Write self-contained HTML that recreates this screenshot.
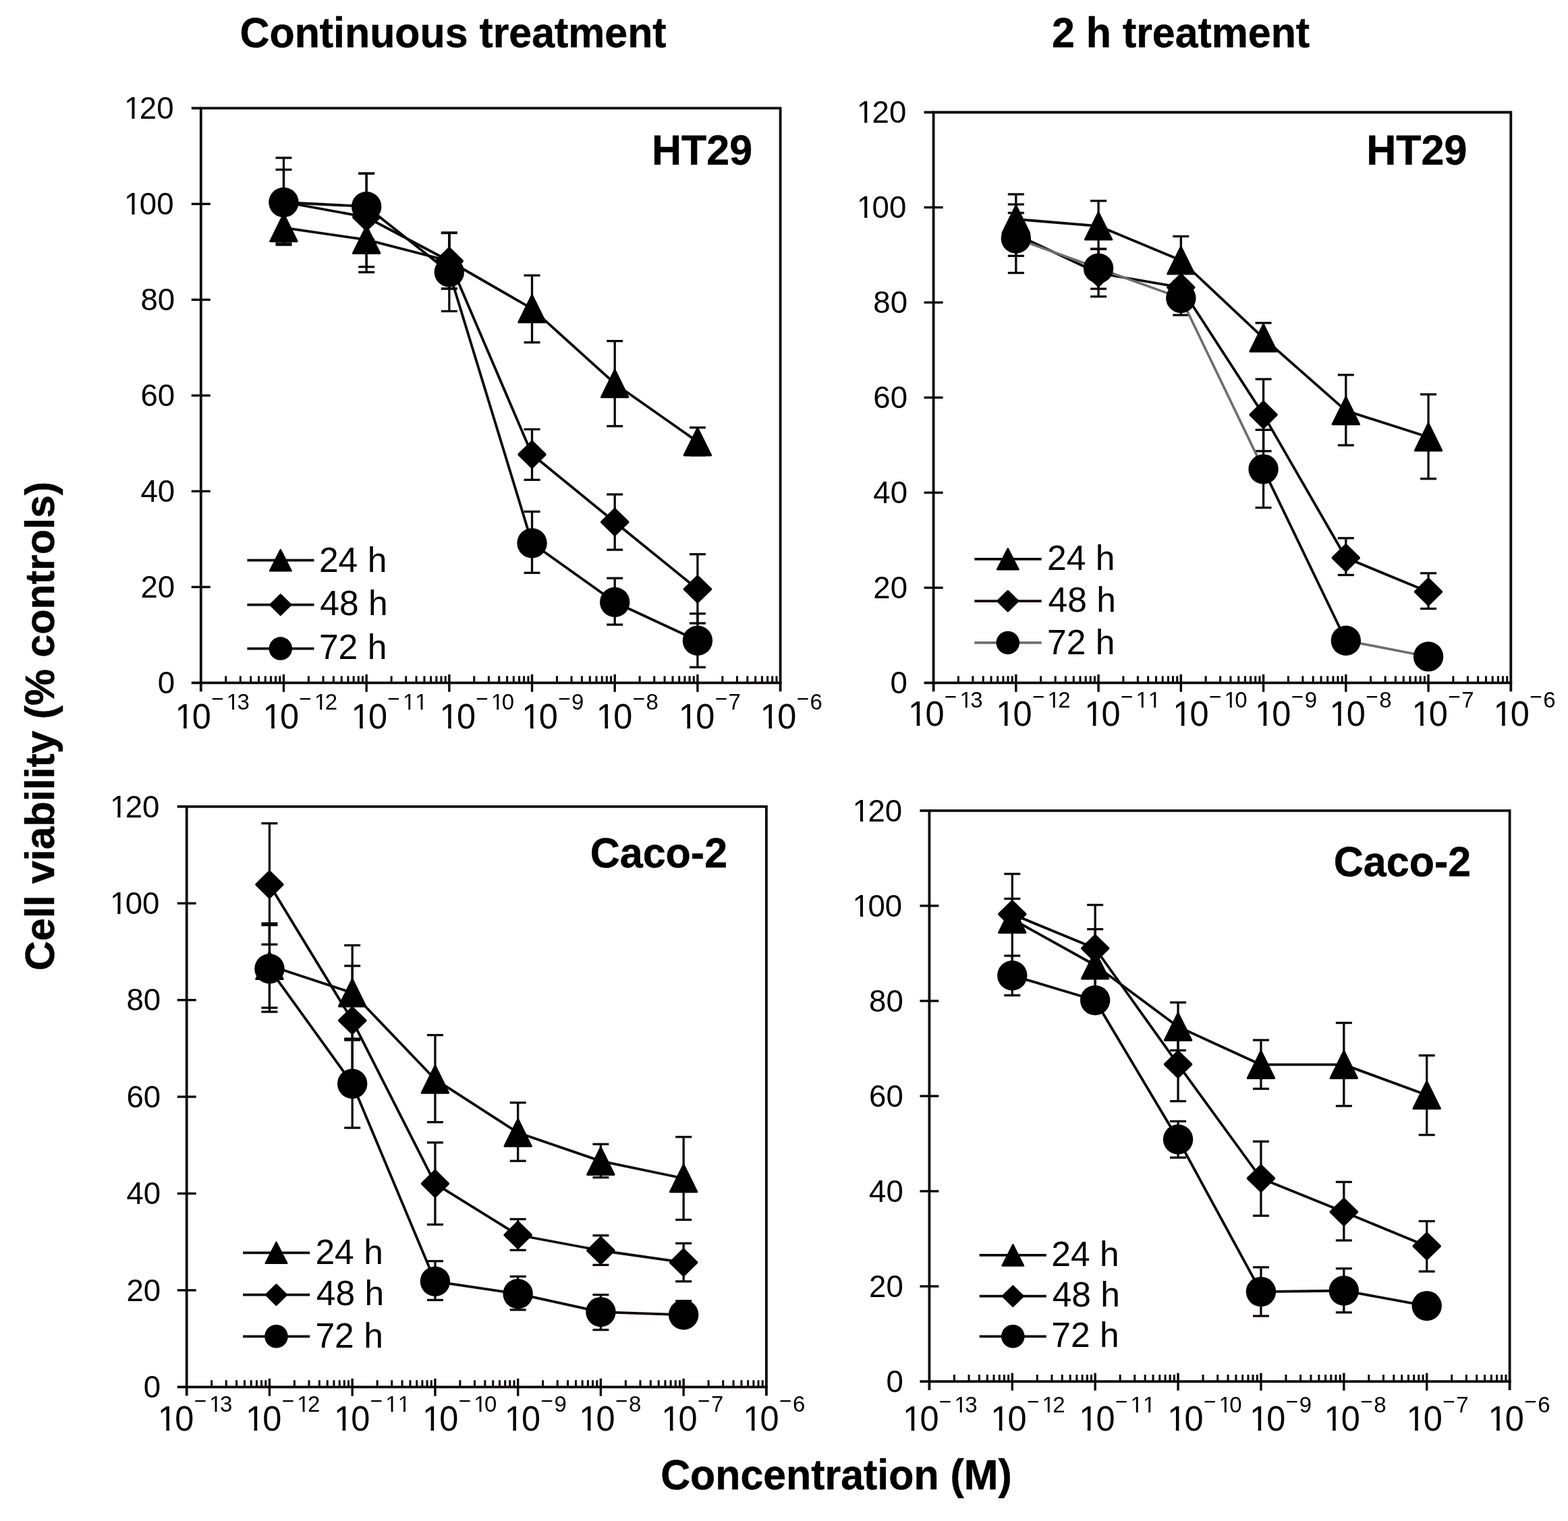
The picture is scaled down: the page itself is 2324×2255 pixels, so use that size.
<!DOCTYPE html>
<html lang="en"><head><meta charset="utf-8"><title>Cell viability</title>
<style>html,body{margin:0;padding:0;background:#fff}body{width:2324px;height:2255px;overflow:hidden}svg{display:block}text{font-family:"Liberation Sans",sans-serif;fill:#000;font-kerning:none}text[font-weight=bold]{stroke:#000;stroke-width:0.5px;stroke-linejoin:round}</style>
</head><body>
<svg width="2324" height="2255" viewBox="0 0 2324 2255" role="img" aria-label="Cell viability versus concentration for HT29 and Caco-2 cells">
<rect width="2324" height="2255" fill="#fff"/>
<defs><clipPath id="cy" clipPathUnits="userSpaceOnUse"><path clip-rule="evenodd" d="M-400 -400H1200V400H-400ZM3.88 -4.56H13.89V1.37H3.88ZM18.08 -4.56H26.31V1.37H18.08Z"/></clipPath><clipPath id="cc" clipPathUnits="userSpaceOnUse"><path clip-rule="evenodd" d="M-400 -400H1200V400H-400ZM4.29 -5.05H15.38V1.51H4.29ZM20.02 -5.05H29.14V1.51H20.02Z"/></clipPath><clipPath id="ca" clipPathUnits="userSpaceOnUse"><path clip-rule="evenodd" d="M-400 -400H1200V400H-400ZM4.29 -5.05H15.38V1.51H4.29ZM20.02 -5.05H29.14V1.51H20.02ZM80.13 -30.1H87.38V-25.81H80.13ZM90.41 -30.1H96.37V-25.81H90.41Z"/></clipPath><clipPath id="cb" clipPathUnits="userSpaceOnUse"><path clip-rule="evenodd" d="M-400 -400H1200V400H-400ZM4.29 -5.05H15.38V1.51H4.29ZM20.02 -5.05H29.14V1.51H20.02ZM80.13 -30.1H87.38V-25.81H80.13ZM90.41 -30.1H96.37V-25.81H90.41ZM98.49 -30.1H105.73V-25.81H98.49ZM108.77 -30.1H114.73V-25.81H108.77Z"/></clipPath></defs>
<text transform="translate(355.57 69.8) scale(1 1.02)" font-size="60.85" font-weight="bold">Continuous treatment</text>
<text transform="translate(1559.07 69.8) scale(1 1.02)" font-size="60.85" font-weight="bold">2 h treatment</text>
<text transform="translate(979.17 2207.8) scale(1 1.02)" font-size="60.85" font-weight="bold">Concentration (M)</text>
<text transform="translate(79.6 1076.5) rotate(-90) scale(1 1.01)" font-size="61" font-weight="bold" text-anchor="middle">Cell viability (% controls)</text>
<g>
<path d="M297.8 1025.3V160.4H1156.6V1025.3" fill="none" stroke="#0c0606" stroke-width="3.8" stroke-linejoin="miter"/>
<line x1="283.8" y1="1012.3" x2="1158.5" y2="1012.3" stroke="#0c0606" stroke-width="3.8"/>
<line x1="283.8" y1="160.4" x2="297.8" y2="160.4" stroke="#0c0606" stroke-width="3.8"/>
<line x1="283.8" y1="870.32" x2="311.8" y2="870.32" stroke="#0c0606" stroke-width="3.4"/>
<line x1="283.8" y1="728.33" x2="311.8" y2="728.33" stroke="#0c0606" stroke-width="3.4"/>
<line x1="283.8" y1="586.35" x2="311.8" y2="586.35" stroke="#0c0606" stroke-width="3.4"/>
<line x1="283.8" y1="444.37" x2="311.8" y2="444.37" stroke="#0c0606" stroke-width="3.4"/>
<line x1="283.8" y1="302.38" x2="311.8" y2="302.38" stroke="#0c0606" stroke-width="3.4"/>
<line x1="420.49" y1="999.8" x2="420.49" y2="1025.8" stroke="#0c0606" stroke-width="3.4"/>
<line x1="543.17" y1="999.8" x2="543.17" y2="1025.8" stroke="#0c0606" stroke-width="3.4"/>
<line x1="665.86" y1="999.8" x2="665.86" y2="1025.8" stroke="#0c0606" stroke-width="3.4"/>
<line x1="788.54" y1="999.8" x2="788.54" y2="1025.8" stroke="#0c0606" stroke-width="3.4"/>
<line x1="911.23" y1="999.8" x2="911.23" y2="1025.8" stroke="#0c0606" stroke-width="3.4"/>
<line x1="1033.91" y1="999.8" x2="1033.91" y2="1025.8" stroke="#0c0606" stroke-width="3.4"/>
<path d="M334.73 1012.3V1002.3M356.34 1012.3V1002.3M371.66 1012.3V1002.3M383.55 1012.3V1002.3M393.27 1012.3V1002.3M401.48 1012.3V1002.3M408.6 1012.3V1002.3M414.87 1012.3V1002.3M457.42 1012.3V1002.3M479.02 1012.3V1002.3M494.35 1012.3V1002.3M506.24 1012.3V1002.3M515.95 1012.3V1002.3M524.17 1012.3V1002.3M531.28 1012.3V1002.3M537.56 1012.3V1002.3M580.1 1012.3V1002.3M601.71 1012.3V1002.3M617.04 1012.3V1002.3M628.93 1012.3V1002.3M638.64 1012.3V1002.3M646.85 1012.3V1002.3M653.97 1012.3V1002.3M660.24 1012.3V1002.3M702.79 1012.3V1002.3M724.39 1012.3V1002.3M739.72 1012.3V1002.3M751.61 1012.3V1002.3M761.33 1012.3V1002.3M769.54 1012.3V1002.3M776.65 1012.3V1002.3M782.93 1012.3V1002.3M825.47 1012.3V1002.3M847.08 1012.3V1002.3M862.41 1012.3V1002.3M874.3 1012.3V1002.3M884.01 1012.3V1002.3M892.22 1012.3V1002.3M899.34 1012.3V1002.3M905.61 1012.3V1002.3M948.16 1012.3V1002.3M969.76 1012.3V1002.3M985.09 1012.3V1002.3M996.98 1012.3V1002.3M1006.7 1012.3V1002.3M1014.91 1012.3V1002.3M1022.02 1012.3V1002.3M1028.3 1012.3V1002.3M1070.85 1012.3V1002.3M1092.45 1012.3V1002.3M1107.78 1012.3V1002.3M1119.67 1012.3V1002.3M1129.38 1012.3V1002.3M1137.6 1012.3V1002.3M1144.71 1012.3V1002.3M1150.99 1012.3V1002.3" fill="none" stroke="#0c0606" stroke-width="3"/>
<text transform="translate(233.8 1028.1) scale(1 1.03)" font-size="45.6">0</text>
<text transform="translate(208.49 886.12) scale(1 1.03)" font-size="45.6">20</text>
<text transform="translate(208.49 744.13) scale(1 1.03)" font-size="45.6">40</text>
<text transform="translate(208.49 602.15) scale(1 1.03)" font-size="45.6">60</text>
<text transform="translate(208.49 460.17) scale(1 1.03)" font-size="45.6">80</text>
<text transform="translate(181.47 318.18) scale(1 1.03)" font-size="45.6" dx="2.51 -2.51" clip-path="url(#cy)">100</text>
<text transform="translate(181.47 176.2) scale(1 1.03)" font-size="45.6" dx="2.51 -2.51" clip-path="url(#cy)">120</text>
<text transform="translate(256.7 1079.5) scale(1 1.03)" font-size="50.5" clip-path="url(#ca)"><tspan dx="2.78 -2.78">10</tspan><tspan x="56.32" y="-31.38" font-size="31.6">−</tspan><tspan x="76.5" y="-26.8" font-size="33" dx="2.64 -2.64">13</tspan></text>
<text transform="translate(386.8 1079.5) scale(1 1.03)" font-size="50.5" clip-path="url(#ca)"><tspan dx="2.78 -2.78">10</tspan><tspan x="56.32" y="-31.38" font-size="31.6">−</tspan><tspan x="76.5" y="-26.8" font-size="33" dx="2.64 -2.64">12</tspan></text>
<text transform="translate(517.8 1079.5) scale(1 1.03)" font-size="50.5" clip-path="url(#cb)"><tspan dx="2.78 -2.78">10</tspan><tspan x="56.32" y="-31.38" font-size="31.6">−</tspan><tspan x="76.5" y="-26.8" font-size="33" dx="2.64">11</tspan></text>
<text transform="translate(648.8 1079.5) scale(1 1.03)" font-size="50.5" clip-path="url(#ca)"><tspan dx="2.78 -2.78">10</tspan><tspan x="56.32" y="-31.38" font-size="31.6">−</tspan><tspan x="76.5" y="-26.8" font-size="33" dx="2.64 -2.64">10</tspan></text>
<text transform="translate(770.6 1079.5) scale(1 1.03)" font-size="50.5" clip-path="url(#cc)"><tspan dx="2.78 -2.78">10</tspan><tspan x="56.32" y="-31.38" font-size="31.6">−</tspan><tspan x="76.5" y="-26.8" font-size="33">9</tspan></text>
<text transform="translate(881.1 1079.5) scale(1 1.03)" font-size="50.5" clip-path="url(#cc)"><tspan dx="2.78 -2.78">10</tspan><tspan x="56.32" y="-31.38" font-size="31.6">−</tspan><tspan x="76.5" y="-26.8" font-size="33">8</tspan></text>
<text transform="translate(1003.1 1079.5) scale(1 1.03)" font-size="50.5" clip-path="url(#cc)"><tspan dx="2.78 -2.78">10</tspan><tspan x="56.32" y="-31.38" font-size="31.6">−</tspan><tspan x="76.5" y="-26.8" font-size="33">7</tspan></text>
<text transform="translate(1124.1 1079.5) scale(1 1.03)" font-size="50.5" clip-path="url(#cc)"><tspan dx="2.78 -2.78">10</tspan><tspan x="56.32" y="-31.38" font-size="31.6">−</tspan><tspan x="76.5" y="-26.8" font-size="33">6</tspan></text>
<line x1="420.49" y1="337.7" x2="420.49" y2="361" stroke="#0c0606" stroke-width="3.3"/>
<line x1="408.49" y1="361" x2="432.49" y2="361" stroke="#0c0606" stroke-width="3.3"/>
<line x1="543.17" y1="355.4" x2="543.17" y2="403.6" stroke="#0c0606" stroke-width="3.3"/>
<line x1="531.17" y1="403.6" x2="555.17" y2="403.6" stroke="#0c0606" stroke-width="3.3"/>
<line x1="665.86" y1="345.1" x2="665.86" y2="428" stroke="#0c0606" stroke-width="3.3"/>
<line x1="653.86" y1="345.1" x2="677.86" y2="345.1" stroke="#0c0606" stroke-width="3.3"/>
<line x1="653.86" y1="428" x2="677.86" y2="428" stroke="#0c0606" stroke-width="3.3"/>
<line x1="788.54" y1="408.3" x2="788.54" y2="507.7" stroke="#0c0606" stroke-width="3.3"/>
<line x1="776.54" y1="408.3" x2="800.54" y2="408.3" stroke="#0c0606" stroke-width="3.3"/>
<line x1="776.54" y1="507.7" x2="800.54" y2="507.7" stroke="#0c0606" stroke-width="3.3"/>
<line x1="911.23" y1="505.6" x2="911.23" y2="631.8" stroke="#0c0606" stroke-width="3.3"/>
<line x1="899.23" y1="505.6" x2="923.23" y2="505.6" stroke="#0c0606" stroke-width="3.3"/>
<line x1="899.23" y1="631.8" x2="923.23" y2="631.8" stroke="#0c0606" stroke-width="3.3"/>
<line x1="1033.91" y1="633.9" x2="1033.91" y2="675" stroke="#0c0606" stroke-width="3.3"/>
<line x1="1021.91" y1="633.9" x2="1045.91" y2="633.9" stroke="#0c0606" stroke-width="3.3"/>
<line x1="1021.91" y1="675" x2="1045.91" y2="675" stroke="#0c0606" stroke-width="3.3"/>
<line x1="420.49" y1="251.5" x2="420.49" y2="347.5" stroke="#0c0606" stroke-width="3.3"/>
<line x1="408.49" y1="251.5" x2="432.49" y2="251.5" stroke="#0c0606" stroke-width="3.3"/>
<line x1="408.49" y1="347.5" x2="432.49" y2="347.5" stroke="#0c0606" stroke-width="3.3"/>
<line x1="543.17" y1="257.2" x2="543.17" y2="395.6" stroke="#0c0606" stroke-width="3.3"/>
<line x1="531.17" y1="257.2" x2="555.17" y2="257.2" stroke="#0c0606" stroke-width="3.3"/>
<line x1="531.17" y1="395.6" x2="555.17" y2="395.6" stroke="#0c0606" stroke-width="3.3"/>
<line x1="665.86" y1="345.1" x2="665.86" y2="428" stroke="#0c0606" stroke-width="3.3"/>
<line x1="653.86" y1="345.1" x2="677.86" y2="345.1" stroke="#0c0606" stroke-width="3.3"/>
<line x1="653.86" y1="428" x2="677.86" y2="428" stroke="#0c0606" stroke-width="3.3"/>
<line x1="788.54" y1="636.5" x2="788.54" y2="711.4" stroke="#0c0606" stroke-width="3.3"/>
<line x1="776.54" y1="636.5" x2="800.54" y2="636.5" stroke="#0c0606" stroke-width="3.3"/>
<line x1="776.54" y1="711.4" x2="800.54" y2="711.4" stroke="#0c0606" stroke-width="3.3"/>
<line x1="911.23" y1="733" x2="911.23" y2="815.1" stroke="#0c0606" stroke-width="3.3"/>
<line x1="899.23" y1="733" x2="923.23" y2="733" stroke="#0c0606" stroke-width="3.3"/>
<line x1="899.23" y1="815.1" x2="923.23" y2="815.1" stroke="#0c0606" stroke-width="3.3"/>
<line x1="1033.91" y1="821.7" x2="1033.91" y2="924" stroke="#0c0606" stroke-width="3.3"/>
<line x1="1021.91" y1="821.7" x2="1045.91" y2="821.7" stroke="#0c0606" stroke-width="3.3"/>
<line x1="1021.91" y1="924" x2="1045.91" y2="924" stroke="#0c0606" stroke-width="3.3"/>
<line x1="420.49" y1="234" x2="420.49" y2="363" stroke="#0c0606" stroke-width="3.3"/>
<line x1="408.49" y1="234" x2="432.49" y2="234" stroke="#0c0606" stroke-width="3.3"/>
<line x1="408.49" y1="363" x2="432.49" y2="363" stroke="#0c0606" stroke-width="3.3"/>
<line x1="543.17" y1="257.2" x2="543.17" y2="355" stroke="#0c0606" stroke-width="3.3"/>
<line x1="531.17" y1="257.2" x2="555.17" y2="257.2" stroke="#0c0606" stroke-width="3.3"/>
<line x1="531.17" y1="355" x2="555.17" y2="355" stroke="#0c0606" stroke-width="3.3"/>
<line x1="665.86" y1="345.5" x2="665.86" y2="461.4" stroke="#0c0606" stroke-width="3.3"/>
<line x1="653.86" y1="345.5" x2="677.86" y2="345.5" stroke="#0c0606" stroke-width="3.3"/>
<line x1="653.86" y1="461.4" x2="677.86" y2="461.4" stroke="#0c0606" stroke-width="3.3"/>
<line x1="788.54" y1="758.5" x2="788.54" y2="849.3" stroke="#0c0606" stroke-width="3.3"/>
<line x1="776.54" y1="758.5" x2="800.54" y2="758.5" stroke="#0c0606" stroke-width="3.3"/>
<line x1="776.54" y1="849.3" x2="800.54" y2="849.3" stroke="#0c0606" stroke-width="3.3"/>
<line x1="911.23" y1="857.2" x2="911.23" y2="926.1" stroke="#0c0606" stroke-width="3.3"/>
<line x1="899.23" y1="857.2" x2="923.23" y2="857.2" stroke="#0c0606" stroke-width="3.3"/>
<line x1="899.23" y1="926.1" x2="923.23" y2="926.1" stroke="#0c0606" stroke-width="3.3"/>
<line x1="1033.91" y1="909.8" x2="1033.91" y2="989.2" stroke="#0c0606" stroke-width="3.3"/>
<line x1="1021.91" y1="909.8" x2="1045.91" y2="909.8" stroke="#0c0606" stroke-width="3.3"/>
<line x1="1021.91" y1="989.2" x2="1045.91" y2="989.2" stroke="#0c0606" stroke-width="3.3"/>
<polyline points="420.49,337.7 543.17,355.4 665.86,387 788.54,457.7 911.23,568.7 1033.91,654.9" fill="none" stroke="#0c0606" stroke-width="3.8" stroke-linejoin="round"/>
<polyline points="420.49,299.5 543.17,322 665.86,387 788.54,673.8 911.23,774 1033.91,873.5" fill="none" stroke="#0c0606" stroke-width="3.8" stroke-linejoin="round"/>
<polyline points="420.49,300 543.17,306.2 665.86,403.4 788.54,805.2 911.23,892.7 1033.91,949.7" fill="none" stroke="#0c0606" stroke-width="3.8" stroke-linejoin="round"/>
<path d="M420.49 317.7L440.19 357.7L400.79 357.7Z" fill="#000" stroke="#000" stroke-width="3" stroke-linejoin="round"/>
<path d="M543.17 335.4L562.87 375.4L523.47 375.4Z" fill="#000" stroke="#000" stroke-width="3" stroke-linejoin="round"/>
<path d="M665.86 367L685.56 407L646.16 407Z" fill="#000" stroke="#000" stroke-width="3" stroke-linejoin="round"/>
<path d="M788.54 437.7L808.24 477.7L768.84 477.7Z" fill="#000" stroke="#000" stroke-width="3" stroke-linejoin="round"/>
<path d="M911.23 548.7L930.93 588.7L891.53 588.7Z" fill="#000" stroke="#000" stroke-width="3" stroke-linejoin="round"/>
<path d="M1033.91 634.9L1053.61 674.9L1014.21 674.9Z" fill="#000" stroke="#000" stroke-width="3" stroke-linejoin="round"/>
<path d="M420.49 280.6L439.69 299.5L420.49 318.4L401.29 299.5Z" fill="#000" stroke="#000" stroke-width="4" stroke-linejoin="round"/>
<path d="M543.17 303.1L562.37 322L543.17 340.9L523.97 322Z" fill="#000" stroke="#000" stroke-width="4" stroke-linejoin="round"/>
<path d="M665.86 368.1L685.06 387L665.86 405.9L646.66 387Z" fill="#000" stroke="#000" stroke-width="4" stroke-linejoin="round"/>
<path d="M788.54 654.9L807.74 673.8L788.54 692.7L769.34 673.8Z" fill="#000" stroke="#000" stroke-width="4" stroke-linejoin="round"/>
<path d="M911.23 755.1L930.43 774L911.23 792.9L892.03 774Z" fill="#000" stroke="#000" stroke-width="4" stroke-linejoin="round"/>
<path d="M1033.91 854.6L1053.11 873.5L1033.91 892.4L1014.71 873.5Z" fill="#000" stroke="#000" stroke-width="4" stroke-linejoin="round"/>
<circle cx="420.49" cy="300" r="22.2" fill="#000"/>
<circle cx="543.17" cy="306.2" r="22.2" fill="#000"/>
<circle cx="665.86" cy="403.4" r="22.2" fill="#000"/>
<circle cx="788.54" cy="805.2" r="22.2" fill="#000"/>
<circle cx="911.23" cy="892.7" r="22.2" fill="#000"/>
<circle cx="1033.91" cy="949.7" r="22.2" fill="#000"/>
<line x1="366.4" y1="830.7" x2="465.5" y2="830.7" stroke="#0c0606" stroke-width="3.8"/>
<path d="M415.8 815.15L431.61 846.25L399.99 846.25Z" fill="#000" stroke="#000" stroke-width="2.4" stroke-linejoin="round"/>
<text transform="translate(472.92 848) scale(1 1.01)" font-size="51.6">24 h</text>
<line x1="366.4" y1="896.6" x2="465.5" y2="896.6" stroke="#0c0606" stroke-width="3.8"/>
<path d="M415.8 881.93L430.72 896.6L415.8 911.27L400.88 896.6Z" fill="#000" stroke="#000" stroke-width="3.2" stroke-linejoin="round"/>
<text transform="translate(474.34 911.6) scale(1 1.01)" font-size="51.6">48 h</text>
<line x1="366.4" y1="961.6" x2="465.5" y2="961.6" stroke="#0c0606" stroke-width="3.8"/>
<circle cx="415.8" cy="961.6" r="17.25" fill="#000"/>
<text transform="translate(472.92 977.3) scale(1 1.01)" font-size="51.6">72 h</text>
<text transform="translate(965.98 243.7) scale(1 1.04)" font-size="61" font-weight="bold">HT29</text>
</g>
<g>
<path d="M1383.6 1025.3V166.5H2239.3V1025.3" fill="none" stroke="#0c0606" stroke-width="3.8" stroke-linejoin="miter"/>
<line x1="1369.6" y1="1012.3" x2="2241.2" y2="1012.3" stroke="#0c0606" stroke-width="3.8"/>
<line x1="1369.6" y1="166.5" x2="1383.6" y2="166.5" stroke="#0c0606" stroke-width="3.8"/>
<line x1="1369.6" y1="871.33" x2="1397.6" y2="871.33" stroke="#0c0606" stroke-width="3.4"/>
<line x1="1369.6" y1="730.37" x2="1397.6" y2="730.37" stroke="#0c0606" stroke-width="3.4"/>
<line x1="1369.6" y1="589.4" x2="1397.6" y2="589.4" stroke="#0c0606" stroke-width="3.4"/>
<line x1="1369.6" y1="448.43" x2="1397.6" y2="448.43" stroke="#0c0606" stroke-width="3.4"/>
<line x1="1369.6" y1="307.47" x2="1397.6" y2="307.47" stroke="#0c0606" stroke-width="3.4"/>
<line x1="1505.84" y1="999.8" x2="1505.84" y2="1025.8" stroke="#0c0606" stroke-width="3.4"/>
<line x1="1628.09" y1="999.8" x2="1628.09" y2="1025.8" stroke="#0c0606" stroke-width="3.4"/>
<line x1="1750.33" y1="999.8" x2="1750.33" y2="1025.8" stroke="#0c0606" stroke-width="3.4"/>
<line x1="1872.57" y1="999.8" x2="1872.57" y2="1025.8" stroke="#0c0606" stroke-width="3.4"/>
<line x1="1994.81" y1="999.8" x2="1994.81" y2="1025.8" stroke="#0c0606" stroke-width="3.4"/>
<line x1="2117.06" y1="999.8" x2="2117.06" y2="1025.8" stroke="#0c0606" stroke-width="3.4"/>
<path d="M1420.4 1012.3V1002.3M1441.92 1012.3V1002.3M1457.2 1012.3V1002.3M1469.04 1012.3V1002.3M1478.72 1012.3V1002.3M1486.91 1012.3V1002.3M1494 1012.3V1002.3M1500.25 1012.3V1002.3M1542.64 1012.3V1002.3M1564.17 1012.3V1002.3M1579.44 1012.3V1002.3M1591.29 1012.3V1002.3M1600.97 1012.3V1002.3M1609.15 1012.3V1002.3M1616.24 1012.3V1002.3M1622.49 1012.3V1002.3M1664.88 1012.3V1002.3M1686.41 1012.3V1002.3M1701.68 1012.3V1002.3M1713.53 1012.3V1002.3M1723.21 1012.3V1002.3M1731.39 1012.3V1002.3M1738.48 1012.3V1002.3M1744.74 1012.3V1002.3M1787.13 1012.3V1002.3M1808.65 1012.3V1002.3M1823.93 1012.3V1002.3M1835.77 1012.3V1002.3M1845.45 1012.3V1002.3M1853.64 1012.3V1002.3M1860.72 1012.3V1002.3M1866.98 1012.3V1002.3M1909.37 1012.3V1002.3M1930.9 1012.3V1002.3M1946.17 1012.3V1002.3M1958.02 1012.3V1002.3M1967.69 1012.3V1002.3M1975.88 1012.3V1002.3M1982.97 1012.3V1002.3M1989.22 1012.3V1002.3M2031.61 1012.3V1002.3M2053.14 1012.3V1002.3M2068.41 1012.3V1002.3M2080.26 1012.3V1002.3M2089.94 1012.3V1002.3M2098.12 1012.3V1002.3M2105.21 1012.3V1002.3M2111.46 1012.3V1002.3M2153.86 1012.3V1002.3M2175.38 1012.3V1002.3M2190.65 1012.3V1002.3M2202.5 1012.3V1002.3M2212.18 1012.3V1002.3M2220.36 1012.3V1002.3M2227.45 1012.3V1002.3M2233.71 1012.3V1002.3" fill="none" stroke="#0c0606" stroke-width="3"/>
<text transform="translate(1319.6 1028.1) scale(1 1.03)" font-size="45.6">0</text>
<text transform="translate(1294.29 887.13) scale(1 1.03)" font-size="45.6">20</text>
<text transform="translate(1294.29 746.17) scale(1 1.03)" font-size="45.6">40</text>
<text transform="translate(1294.29 605.2) scale(1 1.03)" font-size="45.6">60</text>
<text transform="translate(1294.29 464.23) scale(1 1.03)" font-size="45.6">80</text>
<text transform="translate(1267.27 323.27) scale(1 1.03)" font-size="45.6" dx="2.51 -2.51" clip-path="url(#cy)">100</text>
<text transform="translate(1267.27 182.3) scale(1 1.03)" font-size="45.6" dx="2.51 -2.51" clip-path="url(#cy)">120</text>
<text transform="translate(1343.3 1076.3) scale(1 1.03)" font-size="50.5" clip-path="url(#ca)"><tspan dx="2.78 -2.78">10</tspan><tspan x="56.32" y="-31.38" font-size="31.6">−</tspan><tspan x="76.5" y="-26.8" font-size="33" dx="2.64 -2.64">13</tspan></text>
<text transform="translate(1473.4 1076.3) scale(1 1.03)" font-size="50.5" clip-path="url(#ca)"><tspan dx="2.78 -2.78">10</tspan><tspan x="56.32" y="-31.38" font-size="31.6">−</tspan><tspan x="76.5" y="-26.8" font-size="33" dx="2.64 -2.64">12</tspan></text>
<text transform="translate(1604.4 1076.3) scale(1 1.03)" font-size="50.5" clip-path="url(#cb)"><tspan dx="2.78 -2.78">10</tspan><tspan x="56.32" y="-31.38" font-size="31.6">−</tspan><tspan x="76.5" y="-26.8" font-size="33" dx="2.64">11</tspan></text>
<text transform="translate(1735.4 1076.3) scale(1 1.03)" font-size="50.5" clip-path="url(#ca)"><tspan dx="2.78 -2.78">10</tspan><tspan x="56.32" y="-31.38" font-size="31.6">−</tspan><tspan x="76.5" y="-26.8" font-size="33" dx="2.64 -2.64">10</tspan></text>
<text transform="translate(1857.2 1076.3) scale(1 1.03)" font-size="50.5" clip-path="url(#cc)"><tspan dx="2.78 -2.78">10</tspan><tspan x="56.32" y="-31.38" font-size="31.6">−</tspan><tspan x="76.5" y="-26.8" font-size="33">9</tspan></text>
<text transform="translate(1967.7 1076.3) scale(1 1.03)" font-size="50.5" clip-path="url(#cc)"><tspan dx="2.78 -2.78">10</tspan><tspan x="56.32" y="-31.38" font-size="31.6">−</tspan><tspan x="76.5" y="-26.8" font-size="33">8</tspan></text>
<text transform="translate(2089.7 1076.3) scale(1 1.03)" font-size="50.5" clip-path="url(#cc)"><tspan dx="2.78 -2.78">10</tspan><tspan x="56.32" y="-31.38" font-size="31.6">−</tspan><tspan x="76.5" y="-26.8" font-size="33">7</tspan></text>
<text transform="translate(2210.7 1076.3) scale(1 1.03)" font-size="50.5" clip-path="url(#cc)"><tspan dx="2.78 -2.78">10</tspan><tspan x="56.32" y="-31.38" font-size="31.6">−</tspan><tspan x="76.5" y="-26.8" font-size="33">6</tspan></text>
<line x1="1505.84" y1="288" x2="1505.84" y2="362" stroke="#0c0606" stroke-width="3.3"/>
<line x1="1493.84" y1="288" x2="1517.84" y2="288" stroke="#0c0606" stroke-width="3.3"/>
<line x1="1493.84" y1="362" x2="1517.84" y2="362" stroke="#0c0606" stroke-width="3.3"/>
<line x1="1628.09" y1="297.8" x2="1628.09" y2="369.3" stroke="#0c0606" stroke-width="3.3"/>
<line x1="1616.09" y1="297.8" x2="1640.09" y2="297.8" stroke="#0c0606" stroke-width="3.3"/>
<line x1="1616.09" y1="369.3" x2="1640.09" y2="369.3" stroke="#0c0606" stroke-width="3.3"/>
<line x1="1750.33" y1="350.4" x2="1750.33" y2="421.8" stroke="#0c0606" stroke-width="3.3"/>
<line x1="1738.33" y1="350.4" x2="1762.33" y2="350.4" stroke="#0c0606" stroke-width="3.3"/>
<line x1="1738.33" y1="421.8" x2="1762.33" y2="421.8" stroke="#0c0606" stroke-width="3.3"/>
<line x1="1872.57" y1="478.8" x2="1872.57" y2="519" stroke="#0c0606" stroke-width="3.3"/>
<line x1="1860.57" y1="478.8" x2="1884.57" y2="478.8" stroke="#0c0606" stroke-width="3.3"/>
<line x1="1860.57" y1="519" x2="1884.57" y2="519" stroke="#0c0606" stroke-width="3.3"/>
<line x1="1994.81" y1="555.8" x2="1994.81" y2="660.1" stroke="#0c0606" stroke-width="3.3"/>
<line x1="1982.81" y1="555.8" x2="2006.81" y2="555.8" stroke="#0c0606" stroke-width="3.3"/>
<line x1="1982.81" y1="660.1" x2="2006.81" y2="660.1" stroke="#0c0606" stroke-width="3.3"/>
<line x1="2117.06" y1="584.7" x2="2117.06" y2="709.8" stroke="#0c0606" stroke-width="3.3"/>
<line x1="2105.06" y1="584.7" x2="2129.06" y2="584.7" stroke="#0c0606" stroke-width="3.3"/>
<line x1="2105.06" y1="709.8" x2="2129.06" y2="709.8" stroke="#0c0606" stroke-width="3.3"/>
<line x1="1505.84" y1="315.7" x2="1505.84" y2="379.4" stroke="#0c0606" stroke-width="3.3"/>
<line x1="1493.84" y1="315.7" x2="1517.84" y2="315.7" stroke="#0c0606" stroke-width="3.3"/>
<line x1="1493.84" y1="379.4" x2="1517.84" y2="379.4" stroke="#0c0606" stroke-width="3.3"/>
<line x1="1628.09" y1="369.3" x2="1628.09" y2="439.7" stroke="#0c0606" stroke-width="3.3"/>
<line x1="1616.09" y1="369.3" x2="1640.09" y2="369.3" stroke="#0c0606" stroke-width="3.3"/>
<line x1="1616.09" y1="439.7" x2="1640.09" y2="439.7" stroke="#0c0606" stroke-width="3.3"/>
<line x1="1750.33" y1="426.1" x2="1750.33" y2="445" stroke="#0c0606" stroke-width="3.3"/>
<line x1="1738.33" y1="445" x2="1762.33" y2="445" stroke="#0c0606" stroke-width="3.3"/>
<line x1="1872.57" y1="562.1" x2="1872.57" y2="668.8" stroke="#0c0606" stroke-width="3.3"/>
<line x1="1860.57" y1="562.1" x2="1884.57" y2="562.1" stroke="#0c0606" stroke-width="3.3"/>
<line x1="1860.57" y1="668.8" x2="1884.57" y2="668.8" stroke="#0c0606" stroke-width="3.3"/>
<line x1="1994.81" y1="797.8" x2="1994.81" y2="852.5" stroke="#0c0606" stroke-width="3.3"/>
<line x1="1982.81" y1="797.8" x2="2006.81" y2="797.8" stroke="#0c0606" stroke-width="3.3"/>
<line x1="1982.81" y1="852.5" x2="2006.81" y2="852.5" stroke="#0c0606" stroke-width="3.3"/>
<line x1="2117.06" y1="849.8" x2="2117.06" y2="902.4" stroke="#0c0606" stroke-width="3.3"/>
<line x1="2105.06" y1="849.8" x2="2129.06" y2="849.8" stroke="#0c0606" stroke-width="3.3"/>
<line x1="2105.06" y1="902.4" x2="2129.06" y2="902.4" stroke="#0c0606" stroke-width="3.3"/>
<line x1="1505.84" y1="303" x2="1505.84" y2="404.6" stroke="#0c0606" stroke-width="3.3"/>
<line x1="1493.84" y1="303" x2="1517.84" y2="303" stroke="#0c0606" stroke-width="3.3"/>
<line x1="1493.84" y1="404.6" x2="1517.84" y2="404.6" stroke="#0c0606" stroke-width="3.3"/>
<line x1="1628.09" y1="369.3" x2="1628.09" y2="428.2" stroke="#0c0606" stroke-width="3.3"/>
<line x1="1616.09" y1="369.3" x2="1640.09" y2="369.3" stroke="#0c0606" stroke-width="3.3"/>
<line x1="1616.09" y1="428.2" x2="1640.09" y2="428.2" stroke="#0c0606" stroke-width="3.3"/>
<line x1="1750.33" y1="417" x2="1750.33" y2="467.1" stroke="#0c0606" stroke-width="3.3"/>
<line x1="1738.33" y1="417" x2="1762.33" y2="417" stroke="#0c0606" stroke-width="3.3"/>
<line x1="1738.33" y1="467.1" x2="1762.33" y2="467.1" stroke="#0c0606" stroke-width="3.3"/>
<line x1="1872.57" y1="637.3" x2="1872.57" y2="752.7" stroke="#0c0606" stroke-width="3.3"/>
<line x1="1860.57" y1="637.3" x2="1884.57" y2="637.3" stroke="#0c0606" stroke-width="3.3"/>
<line x1="1860.57" y1="752.7" x2="1884.57" y2="752.7" stroke="#0c0606" stroke-width="3.3"/>
<polyline points="1505.84,325 1628.09,335.1 1750.33,386.1 1872.57,501.1 1994.81,608.9 2117.06,648" fill="none" stroke="#0c0606" stroke-width="3.8" stroke-linejoin="round"/>
<polyline points="1505.84,347.5 1628.09,405 1750.33,426.1 1872.57,614.9 1994.81,827 2117.06,877.4" fill="none" stroke="#0c0606" stroke-width="3.8" stroke-linejoin="round"/>
<line x1="1505.84" y1="353.6" x2="1628.09" y2="397.7" stroke="#6e6e6e" stroke-width="3.6"/>
<line x1="1628.09" y1="397.7" x2="1750.33" y2="441.9" stroke="#6e6e6e" stroke-width="3.6"/>
<line x1="1750.33" y1="441.9" x2="1872.57" y2="695.6" stroke="#6e6e6e" stroke-width="3.6"/>
<line x1="1872.57" y1="695.6" x2="1994.81" y2="949.7" stroke="#0c0606" stroke-width="3.8"/>
<line x1="1994.81" y1="949.7" x2="2117.06" y2="973.4" stroke="#6e6e6e" stroke-width="3.6"/>
<path d="M1505.84 305L1525.54 345L1486.14 345Z" fill="#000" stroke="#000" stroke-width="3" stroke-linejoin="round"/>
<path d="M1628.09 315.1L1647.79 355.1L1608.39 355.1Z" fill="#000" stroke="#000" stroke-width="3" stroke-linejoin="round"/>
<path d="M1750.33 366.1L1770.03 406.1L1730.63 406.1Z" fill="#000" stroke="#000" stroke-width="3" stroke-linejoin="round"/>
<path d="M1872.57 481.1L1892.27 521.1L1852.87 521.1Z" fill="#000" stroke="#000" stroke-width="3" stroke-linejoin="round"/>
<path d="M1994.81 588.9L2014.51 628.9L1975.11 628.9Z" fill="#000" stroke="#000" stroke-width="3" stroke-linejoin="round"/>
<path d="M2117.06 628L2136.76 668L2097.36 668Z" fill="#000" stroke="#000" stroke-width="3" stroke-linejoin="round"/>
<path d="M1505.84 328.6L1525.04 347.5L1505.84 366.4L1486.64 347.5Z" fill="#000" stroke="#000" stroke-width="4" stroke-linejoin="round"/>
<path d="M1628.09 386.1L1647.29 405L1628.09 423.9L1608.89 405Z" fill="#000" stroke="#000" stroke-width="4" stroke-linejoin="round"/>
<path d="M1750.33 407.2L1769.53 426.1L1750.33 445L1731.13 426.1Z" fill="#000" stroke="#000" stroke-width="4" stroke-linejoin="round"/>
<path d="M1872.57 596L1891.77 614.9L1872.57 633.8L1853.37 614.9Z" fill="#000" stroke="#000" stroke-width="4" stroke-linejoin="round"/>
<path d="M1994.81 808.1L2014.01 827L1994.81 845.9L1975.61 827Z" fill="#000" stroke="#000" stroke-width="4" stroke-linejoin="round"/>
<path d="M2117.06 858.5L2136.26 877.4L2117.06 896.3L2097.86 877.4Z" fill="#000" stroke="#000" stroke-width="4" stroke-linejoin="round"/>
<circle cx="1505.84" cy="353.6" r="22.2" fill="#000"/>
<circle cx="1628.09" cy="397.7" r="22.2" fill="#000"/>
<circle cx="1750.33" cy="441.9" r="22.2" fill="#000"/>
<circle cx="1872.57" cy="695.6" r="22.2" fill="#000"/>
<circle cx="1994.81" cy="949.7" r="22.2" fill="#000"/>
<circle cx="2117.06" cy="973.4" r="22.2" fill="#000"/>
<line x1="1444.3" y1="828.8" x2="1543.7" y2="828.8" stroke="#0c0606" stroke-width="3.8"/>
<path d="M1493.8 813.25L1509.61 844.35L1477.99 844.35Z" fill="#000" stroke="#000" stroke-width="2.4" stroke-linejoin="round"/>
<text transform="translate(1552.12 845.4) scale(1 1.01)" font-size="51.6">24 h</text>
<line x1="1444.3" y1="891.1" x2="1543.7" y2="891.1" stroke="#0c0606" stroke-width="3.8"/>
<path d="M1493.8 876.43L1508.72 891.1L1493.8 905.77L1478.88 891.1Z" fill="#000" stroke="#000" stroke-width="3.2" stroke-linejoin="round"/>
<text transform="translate(1553.54 906.9) scale(1 1.01)" font-size="51.6">48 h</text>
<line x1="1444.3" y1="952.9" x2="1543.7" y2="952.9" stroke="#6e6e6e" stroke-width="3.8"/>
<circle cx="1493.8" cy="952.9" r="17.25" fill="#000"/>
<text transform="translate(1552.12 969.5) scale(1 1.01)" font-size="51.6">72 h</text>
<text transform="translate(2025.28 244.1) scale(1 1.04)" font-size="61" font-weight="bold">HT29</text>
</g>
<g>
<path d="M276.7 2069.3V1195.8H1135.9V2069.3" fill="none" stroke="#0c0606" stroke-width="3.8" stroke-linejoin="miter"/>
<line x1="262.7" y1="2056.3" x2="1137.8" y2="2056.3" stroke="#0c0606" stroke-width="3.8"/>
<line x1="262.7" y1="1195.8" x2="276.7" y2="1195.8" stroke="#0c0606" stroke-width="3.8"/>
<line x1="262.7" y1="1912.88" x2="290.7" y2="1912.88" stroke="#0c0606" stroke-width="3.4"/>
<line x1="262.7" y1="1769.47" x2="290.7" y2="1769.47" stroke="#0c0606" stroke-width="3.4"/>
<line x1="262.7" y1="1626.05" x2="290.7" y2="1626.05" stroke="#0c0606" stroke-width="3.4"/>
<line x1="262.7" y1="1482.63" x2="290.7" y2="1482.63" stroke="#0c0606" stroke-width="3.4"/>
<line x1="262.7" y1="1339.22" x2="290.7" y2="1339.22" stroke="#0c0606" stroke-width="3.4"/>
<line x1="399.44" y1="2043.8" x2="399.44" y2="2069.8" stroke="#0c0606" stroke-width="3.4"/>
<line x1="522.19" y1="2043.8" x2="522.19" y2="2069.8" stroke="#0c0606" stroke-width="3.4"/>
<line x1="644.93" y1="2043.8" x2="644.93" y2="2069.8" stroke="#0c0606" stroke-width="3.4"/>
<line x1="767.67" y1="2043.8" x2="767.67" y2="2069.8" stroke="#0c0606" stroke-width="3.4"/>
<line x1="890.41" y1="2043.8" x2="890.41" y2="2069.8" stroke="#0c0606" stroke-width="3.4"/>
<line x1="1013.16" y1="2043.8" x2="1013.16" y2="2069.8" stroke="#0c0606" stroke-width="3.4"/>
<path d="M313.65 2056.3V2046.3M335.26 2056.3V2046.3M350.6 2056.3V2046.3M362.49 2056.3V2046.3M372.21 2056.3V2046.3M380.43 2056.3V2046.3M387.55 2056.3V2046.3M393.83 2056.3V2046.3M436.39 2056.3V2046.3M458.01 2056.3V2046.3M473.34 2056.3V2046.3M485.24 2056.3V2046.3M494.96 2056.3V2046.3M503.17 2056.3V2046.3M510.29 2056.3V2046.3M516.57 2056.3V2046.3M559.13 2056.3V2046.3M580.75 2056.3V2046.3M596.08 2056.3V2046.3M607.98 2056.3V2046.3M617.7 2056.3V2046.3M625.92 2056.3V2046.3M633.03 2056.3V2046.3M639.31 2056.3V2046.3M681.88 2056.3V2046.3M703.49 2056.3V2046.3M718.83 2056.3V2046.3M730.72 2056.3V2046.3M740.44 2056.3V2046.3M748.66 2056.3V2046.3M755.78 2056.3V2046.3M762.06 2056.3V2046.3M804.62 2056.3V2046.3M826.23 2056.3V2046.3M841.57 2056.3V2046.3M853.47 2056.3V2046.3M863.18 2056.3V2046.3M871.4 2056.3V2046.3M878.52 2056.3V2046.3M884.8 2056.3V2046.3M927.36 2056.3V2046.3M948.98 2056.3V2046.3M964.31 2056.3V2046.3M976.21 2056.3V2046.3M985.93 2056.3V2046.3M994.14 2056.3V2046.3M1001.26 2056.3V2046.3M1007.54 2056.3V2046.3M1050.11 2056.3V2046.3M1071.72 2056.3V2046.3M1087.06 2056.3V2046.3M1098.95 2056.3V2046.3M1108.67 2056.3V2046.3M1116.89 2056.3V2046.3M1124 2056.3V2046.3M1130.28 2056.3V2046.3" fill="none" stroke="#0c0606" stroke-width="3"/>
<text transform="translate(212.7 2072.1) scale(1 1.03)" font-size="45.6">0</text>
<text transform="translate(187.39 1928.68) scale(1 1.03)" font-size="45.6">20</text>
<text transform="translate(187.39 1785.27) scale(1 1.03)" font-size="45.6">40</text>
<text transform="translate(187.39 1641.85) scale(1 1.03)" font-size="45.6">60</text>
<text transform="translate(187.39 1498.43) scale(1 1.03)" font-size="45.6">80</text>
<text transform="translate(160.37 1355.02) scale(1 1.03)" font-size="45.6" dx="2.51 -2.51" clip-path="url(#cy)">100</text>
<text transform="translate(160.37 1211.6) scale(1 1.03)" font-size="45.6" dx="2.51 -2.51" clip-path="url(#cy)">120</text>
<text transform="translate(231.1 2120.7) scale(1 1.03)" font-size="50.5" clip-path="url(#ca)"><tspan dx="2.78 -2.78">10</tspan><tspan x="56.32" y="-31.38" font-size="31.6">−</tspan><tspan x="76.5" y="-26.8" font-size="33" dx="2.64 -2.64">13</tspan></text>
<text transform="translate(361.2 2120.7) scale(1 1.03)" font-size="50.5" clip-path="url(#ca)"><tspan dx="2.78 -2.78">10</tspan><tspan x="56.32" y="-31.38" font-size="31.6">−</tspan><tspan x="76.5" y="-26.8" font-size="33" dx="2.64 -2.64">12</tspan></text>
<text transform="translate(492.2 2120.7) scale(1 1.03)" font-size="50.5" clip-path="url(#cb)"><tspan dx="2.78 -2.78">10</tspan><tspan x="56.32" y="-31.38" font-size="31.6">−</tspan><tspan x="76.5" y="-26.8" font-size="33" dx="2.64">11</tspan></text>
<text transform="translate(623.2 2120.7) scale(1 1.03)" font-size="50.5" clip-path="url(#ca)"><tspan dx="2.78 -2.78">10</tspan><tspan x="56.32" y="-31.38" font-size="31.6">−</tspan><tspan x="76.5" y="-26.8" font-size="33" dx="2.64 -2.64">10</tspan></text>
<text transform="translate(745 2120.7) scale(1 1.03)" font-size="50.5" clip-path="url(#cc)"><tspan dx="2.78 -2.78">10</tspan><tspan x="56.32" y="-31.38" font-size="31.6">−</tspan><tspan x="76.5" y="-26.8" font-size="33">9</tspan></text>
<text transform="translate(855.5 2120.7) scale(1 1.03)" font-size="50.5" clip-path="url(#cc)"><tspan dx="2.78 -2.78">10</tspan><tspan x="56.32" y="-31.38" font-size="31.6">−</tspan><tspan x="76.5" y="-26.8" font-size="33">8</tspan></text>
<text transform="translate(977.5 2120.7) scale(1 1.03)" font-size="50.5" clip-path="url(#cc)"><tspan dx="2.78 -2.78">10</tspan><tspan x="56.32" y="-31.38" font-size="31.6">−</tspan><tspan x="76.5" y="-26.8" font-size="33">7</tspan></text>
<text transform="translate(1098.5 2120.7) scale(1 1.03)" font-size="50.5" clip-path="url(#cc)"><tspan dx="2.78 -2.78">10</tspan><tspan x="56.32" y="-31.38" font-size="31.6">−</tspan><tspan x="76.5" y="-26.8" font-size="33">6</tspan></text>
<line x1="399.44" y1="1369" x2="399.44" y2="1494.1" stroke="#0c0606" stroke-width="3.3"/>
<line x1="387.44" y1="1369" x2="411.44" y2="1369" stroke="#0c0606" stroke-width="3.3"/>
<line x1="387.44" y1="1494.1" x2="411.44" y2="1494.1" stroke="#0c0606" stroke-width="3.3"/>
<line x1="522.19" y1="1401.5" x2="522.19" y2="1542" stroke="#0c0606" stroke-width="3.3"/>
<line x1="510.19" y1="1401.5" x2="534.19" y2="1401.5" stroke="#0c0606" stroke-width="3.3"/>
<line x1="510.19" y1="1542" x2="534.19" y2="1542" stroke="#0c0606" stroke-width="3.3"/>
<line x1="644.93" y1="1534.6" x2="644.93" y2="1663.7" stroke="#0c0606" stroke-width="3.3"/>
<line x1="632.93" y1="1534.6" x2="656.93" y2="1534.6" stroke="#0c0606" stroke-width="3.3"/>
<line x1="632.93" y1="1663.7" x2="656.93" y2="1663.7" stroke="#0c0606" stroke-width="3.3"/>
<line x1="767.67" y1="1634.8" x2="767.67" y2="1721.2" stroke="#0c0606" stroke-width="3.3"/>
<line x1="755.67" y1="1634.8" x2="779.67" y2="1634.8" stroke="#0c0606" stroke-width="3.3"/>
<line x1="755.67" y1="1721.2" x2="779.67" y2="1721.2" stroke="#0c0606" stroke-width="3.3"/>
<line x1="890.41" y1="1696.3" x2="890.41" y2="1745.7" stroke="#0c0606" stroke-width="3.3"/>
<line x1="878.41" y1="1696.3" x2="902.41" y2="1696.3" stroke="#0c0606" stroke-width="3.3"/>
<line x1="878.41" y1="1745.7" x2="902.41" y2="1745.7" stroke="#0c0606" stroke-width="3.3"/>
<line x1="1013.16" y1="1685.6" x2="1013.16" y2="1808.4" stroke="#0c0606" stroke-width="3.3"/>
<line x1="1001.16" y1="1685.6" x2="1025.16" y2="1685.6" stroke="#0c0606" stroke-width="3.3"/>
<line x1="1001.16" y1="1808.4" x2="1025.16" y2="1808.4" stroke="#0c0606" stroke-width="3.3"/>
<line x1="399.44" y1="1220.7" x2="399.44" y2="1400.2" stroke="#0c0606" stroke-width="3.3"/>
<line x1="387.44" y1="1220.7" x2="411.44" y2="1220.7" stroke="#0c0606" stroke-width="3.3"/>
<line x1="387.44" y1="1400.2" x2="411.44" y2="1400.2" stroke="#0c0606" stroke-width="3.3"/>
<line x1="522.19" y1="1432" x2="522.19" y2="1594" stroke="#0c0606" stroke-width="3.3"/>
<line x1="510.19" y1="1432" x2="534.19" y2="1432" stroke="#0c0606" stroke-width="3.3"/>
<line x1="510.19" y1="1594" x2="534.19" y2="1594" stroke="#0c0606" stroke-width="3.3"/>
<line x1="644.93" y1="1693.9" x2="644.93" y2="1815.5" stroke="#0c0606" stroke-width="3.3"/>
<line x1="632.93" y1="1693.9" x2="656.93" y2="1693.9" stroke="#0c0606" stroke-width="3.3"/>
<line x1="632.93" y1="1815.5" x2="656.93" y2="1815.5" stroke="#0c0606" stroke-width="3.3"/>
<line x1="767.67" y1="1807.5" x2="767.67" y2="1853.4" stroke="#0c0606" stroke-width="3.3"/>
<line x1="755.67" y1="1807.5" x2="779.67" y2="1807.5" stroke="#0c0606" stroke-width="3.3"/>
<line x1="755.67" y1="1853.4" x2="779.67" y2="1853.4" stroke="#0c0606" stroke-width="3.3"/>
<line x1="890.41" y1="1831.7" x2="890.41" y2="1875.4" stroke="#0c0606" stroke-width="3.3"/>
<line x1="878.41" y1="1831.7" x2="902.41" y2="1831.7" stroke="#0c0606" stroke-width="3.3"/>
<line x1="878.41" y1="1875.4" x2="902.41" y2="1875.4" stroke="#0c0606" stroke-width="3.3"/>
<line x1="1013.16" y1="1843.3" x2="1013.16" y2="1899.8" stroke="#0c0606" stroke-width="3.3"/>
<line x1="1001.16" y1="1843.3" x2="1025.16" y2="1843.3" stroke="#0c0606" stroke-width="3.3"/>
<line x1="1001.16" y1="1899.8" x2="1025.16" y2="1899.8" stroke="#0c0606" stroke-width="3.3"/>
<line x1="399.44" y1="1371.5" x2="399.44" y2="1500.1" stroke="#0c0606" stroke-width="3.3"/>
<line x1="387.44" y1="1371.5" x2="411.44" y2="1371.5" stroke="#0c0606" stroke-width="3.3"/>
<line x1="387.44" y1="1500.1" x2="411.44" y2="1500.1" stroke="#0c0606" stroke-width="3.3"/>
<line x1="522.19" y1="1540" x2="522.19" y2="1672.1" stroke="#0c0606" stroke-width="3.3"/>
<line x1="510.19" y1="1540" x2="534.19" y2="1540" stroke="#0c0606" stroke-width="3.3"/>
<line x1="510.19" y1="1672.1" x2="534.19" y2="1672.1" stroke="#0c0606" stroke-width="3.3"/>
<line x1="644.93" y1="1869.7" x2="644.93" y2="1927.4" stroke="#0c0606" stroke-width="3.3"/>
<line x1="632.93" y1="1869.7" x2="656.93" y2="1869.7" stroke="#0c0606" stroke-width="3.3"/>
<line x1="632.93" y1="1927.4" x2="656.93" y2="1927.4" stroke="#0c0606" stroke-width="3.3"/>
<line x1="767.67" y1="1892.5" x2="767.67" y2="1941.9" stroke="#0c0606" stroke-width="3.3"/>
<line x1="755.67" y1="1892.5" x2="779.67" y2="1892.5" stroke="#0c0606" stroke-width="3.3"/>
<line x1="755.67" y1="1941.9" x2="779.67" y2="1941.9" stroke="#0c0606" stroke-width="3.3"/>
<line x1="890.41" y1="1919.6" x2="890.41" y2="1971.6" stroke="#0c0606" stroke-width="3.3"/>
<line x1="878.41" y1="1919.6" x2="902.41" y2="1919.6" stroke="#0c0606" stroke-width="3.3"/>
<line x1="878.41" y1="1971.6" x2="902.41" y2="1971.6" stroke="#0c0606" stroke-width="3.3"/>
<line x1="1013.16" y1="1928.8" x2="1013.16" y2="1949.3" stroke="#0c0606" stroke-width="3.3"/>
<line x1="1001.16" y1="1928.8" x2="1025.16" y2="1928.8" stroke="#0c0606" stroke-width="3.3"/>
<polyline points="399.44,1431.5 522.19,1472 644.93,1600.2 767.67,1679.3 890.41,1721.4 1013.16,1747" fill="none" stroke="#0c0606" stroke-width="3.8" stroke-linejoin="round"/>
<polyline points="399.44,1311.4 522.19,1513 644.93,1754.9 767.67,1831 890.41,1854 1013.16,1871.7" fill="none" stroke="#0c0606" stroke-width="3.8" stroke-linejoin="round"/>
<polyline points="399.44,1436.3 522.19,1606.7 644.93,1899.8 767.67,1918.2 890.41,1945.1 1013.16,1949.3" fill="none" stroke="#0c0606" stroke-width="3.8" stroke-linejoin="round"/>
<path d="M399.44 1411.5L419.14 1451.5L379.74 1451.5Z" fill="#000" stroke="#000" stroke-width="3" stroke-linejoin="round"/>
<path d="M522.19 1452L541.89 1492L502.49 1492Z" fill="#000" stroke="#000" stroke-width="3" stroke-linejoin="round"/>
<path d="M644.93 1580.2L664.63 1620.2L625.23 1620.2Z" fill="#000" stroke="#000" stroke-width="3" stroke-linejoin="round"/>
<path d="M767.67 1659.3L787.37 1699.3L747.97 1699.3Z" fill="#000" stroke="#000" stroke-width="3" stroke-linejoin="round"/>
<path d="M890.41 1701.4L910.11 1741.4L870.71 1741.4Z" fill="#000" stroke="#000" stroke-width="3" stroke-linejoin="round"/>
<path d="M1013.16 1727L1032.86 1767L993.46 1767Z" fill="#000" stroke="#000" stroke-width="3" stroke-linejoin="round"/>
<path d="M399.44 1292.5L418.64 1311.4L399.44 1330.3L380.24 1311.4Z" fill="#000" stroke="#000" stroke-width="4" stroke-linejoin="round"/>
<path d="M522.19 1494.1L541.39 1513L522.19 1531.9L502.99 1513Z" fill="#000" stroke="#000" stroke-width="4" stroke-linejoin="round"/>
<path d="M644.93 1736L664.13 1754.9L644.93 1773.8L625.73 1754.9Z" fill="#000" stroke="#000" stroke-width="4" stroke-linejoin="round"/>
<path d="M767.67 1812.1L786.87 1831L767.67 1849.9L748.47 1831Z" fill="#000" stroke="#000" stroke-width="4" stroke-linejoin="round"/>
<path d="M890.41 1835.1L909.61 1854L890.41 1872.9L871.21 1854Z" fill="#000" stroke="#000" stroke-width="4" stroke-linejoin="round"/>
<path d="M1013.16 1852.8L1032.36 1871.7L1013.16 1890.6L993.96 1871.7Z" fill="#000" stroke="#000" stroke-width="4" stroke-linejoin="round"/>
<circle cx="399.44" cy="1436.3" r="22.2" fill="#000"/>
<circle cx="522.19" cy="1606.7" r="22.2" fill="#000"/>
<circle cx="644.93" cy="1899.8" r="22.2" fill="#000"/>
<circle cx="767.67" cy="1918.2" r="22.2" fill="#000"/>
<circle cx="890.41" cy="1945.1" r="22.2" fill="#000"/>
<circle cx="1013.16" cy="1949.3" r="22.2" fill="#000"/>
<line x1="360.1" y1="1857.3" x2="459.2" y2="1857.3" stroke="#0c0606" stroke-width="3.8"/>
<path d="M409.5 1841.75L425.31 1872.85L393.69 1872.85Z" fill="#000" stroke="#000" stroke-width="2.4" stroke-linejoin="round"/>
<text transform="translate(467.42 1873.6) scale(1 1.01)" font-size="51.6">24 h</text>
<line x1="360.1" y1="1919.6" x2="459.2" y2="1919.6" stroke="#0c0606" stroke-width="3.8"/>
<path d="M409.5 1904.93L424.42 1919.6L409.5 1934.27L394.58 1919.6Z" fill="#000" stroke="#000" stroke-width="3.2" stroke-linejoin="round"/>
<text transform="translate(468.84 1935.3) scale(1 1.01)" font-size="51.6">48 h</text>
<line x1="360.1" y1="1981.3" x2="459.2" y2="1981.3" stroke="#0c0606" stroke-width="3.8"/>
<circle cx="409.5" cy="1981.3" r="17.25" fill="#000"/>
<text transform="translate(467.42 1997.6) scale(1 1.01)" font-size="51.6">72 h</text>
<text transform="translate(874.66 1286.3) scale(1 1.02)" font-size="61" font-weight="bold">Caco-2</text>
</g>
<g>
<path d="M1377.4 2061.1V1201.9H2237.6V2061.1" fill="none" stroke="#0c0606" stroke-width="3.8" stroke-linejoin="miter"/>
<line x1="1363.4" y1="2048.1" x2="2239.5" y2="2048.1" stroke="#0c0606" stroke-width="3.8"/>
<line x1="1363.4" y1="1201.9" x2="1377.4" y2="1201.9" stroke="#0c0606" stroke-width="3.8"/>
<line x1="1363.4" y1="1907.07" x2="1391.4" y2="1907.07" stroke="#0c0606" stroke-width="3.4"/>
<line x1="1363.4" y1="1766.03" x2="1391.4" y2="1766.03" stroke="#0c0606" stroke-width="3.4"/>
<line x1="1363.4" y1="1625" x2="1391.4" y2="1625" stroke="#0c0606" stroke-width="3.4"/>
<line x1="1363.4" y1="1483.97" x2="1391.4" y2="1483.97" stroke="#0c0606" stroke-width="3.4"/>
<line x1="1363.4" y1="1342.93" x2="1391.4" y2="1342.93" stroke="#0c0606" stroke-width="3.4"/>
<line x1="1500.29" y1="2035.6" x2="1500.29" y2="2061.6" stroke="#0c0606" stroke-width="3.4"/>
<line x1="1623.17" y1="2035.6" x2="1623.17" y2="2061.6" stroke="#0c0606" stroke-width="3.4"/>
<line x1="1746.06" y1="2035.6" x2="1746.06" y2="2061.6" stroke="#0c0606" stroke-width="3.4"/>
<line x1="1868.94" y1="2035.6" x2="1868.94" y2="2061.6" stroke="#0c0606" stroke-width="3.4"/>
<line x1="1991.83" y1="2035.6" x2="1991.83" y2="2061.6" stroke="#0c0606" stroke-width="3.4"/>
<line x1="2114.71" y1="2035.6" x2="2114.71" y2="2061.6" stroke="#0c0606" stroke-width="3.4"/>
<path d="M1414.39 2048.1V2038.1M1436.03 2048.1V2038.1M1451.38 2048.1V2038.1M1463.29 2048.1V2038.1M1473.02 2048.1V2038.1M1481.25 2048.1V2038.1M1488.38 2048.1V2038.1M1494.66 2048.1V2038.1M1537.28 2048.1V2038.1M1558.92 2048.1V2038.1M1574.27 2048.1V2038.1M1586.18 2048.1V2038.1M1595.91 2048.1V2038.1M1604.14 2048.1V2038.1M1611.26 2048.1V2038.1M1617.55 2048.1V2038.1M1660.16 2048.1V2038.1M1681.8 2048.1V2038.1M1697.16 2048.1V2038.1M1709.06 2048.1V2038.1M1718.8 2048.1V2038.1M1727.02 2048.1V2038.1M1734.15 2048.1V2038.1M1740.43 2048.1V2038.1M1783.05 2048.1V2038.1M1804.69 2048.1V2038.1M1820.04 2048.1V2038.1M1831.95 2048.1V2038.1M1841.68 2048.1V2038.1M1849.91 2048.1V2038.1M1857.03 2048.1V2038.1M1863.32 2048.1V2038.1M1905.94 2048.1V2038.1M1927.57 2048.1V2038.1M1942.93 2048.1V2038.1M1954.84 2048.1V2038.1M1964.57 2048.1V2038.1M1972.79 2048.1V2038.1M1979.92 2048.1V2038.1M1986.21 2048.1V2038.1M2028.82 2048.1V2038.1M2050.46 2048.1V2038.1M2065.81 2048.1V2038.1M2077.72 2048.1V2038.1M2087.45 2048.1V2038.1M2095.68 2048.1V2038.1M2102.81 2048.1V2038.1M2109.09 2048.1V2038.1M2151.71 2048.1V2038.1M2173.35 2048.1V2038.1M2188.7 2048.1V2038.1M2200.61 2048.1V2038.1M2210.34 2048.1V2038.1M2218.56 2048.1V2038.1M2225.69 2048.1V2038.1M2231.98 2048.1V2038.1" fill="none" stroke="#0c0606" stroke-width="3"/>
<text transform="translate(1313.4 2063.9) scale(1 1.03)" font-size="45.6">0</text>
<text transform="translate(1288.09 1922.87) scale(1 1.03)" font-size="45.6">20</text>
<text transform="translate(1288.09 1781.83) scale(1 1.03)" font-size="45.6">40</text>
<text transform="translate(1288.09 1640.8) scale(1 1.03)" font-size="45.6">60</text>
<text transform="translate(1288.09 1499.77) scale(1 1.03)" font-size="45.6">80</text>
<text transform="translate(1261.07 1358.73) scale(1 1.03)" font-size="45.6" dx="2.51 -2.51" clip-path="url(#cy)">100</text>
<text transform="translate(1261.07 1217.7) scale(1 1.03)" font-size="45.6" dx="2.51 -2.51" clip-path="url(#cy)">120</text>
<text transform="translate(1335.3 2121.2) scale(1 1.03)" font-size="50.5" clip-path="url(#ca)"><tspan dx="2.78 -2.78">10</tspan><tspan x="56.32" y="-31.38" font-size="31.6">−</tspan><tspan x="76.5" y="-26.8" font-size="33" dx="2.64 -2.64">13</tspan></text>
<text transform="translate(1465.4 2121.2) scale(1 1.03)" font-size="50.5" clip-path="url(#ca)"><tspan dx="2.78 -2.78">10</tspan><tspan x="56.32" y="-31.38" font-size="31.6">−</tspan><tspan x="76.5" y="-26.8" font-size="33" dx="2.64 -2.64">12</tspan></text>
<text transform="translate(1596.4 2121.2) scale(1 1.03)" font-size="50.5" clip-path="url(#cb)"><tspan dx="2.78 -2.78">10</tspan><tspan x="56.32" y="-31.38" font-size="31.6">−</tspan><tspan x="76.5" y="-26.8" font-size="33" dx="2.64">11</tspan></text>
<text transform="translate(1727.4 2121.2) scale(1 1.03)" font-size="50.5" clip-path="url(#ca)"><tspan dx="2.78 -2.78">10</tspan><tspan x="56.32" y="-31.38" font-size="31.6">−</tspan><tspan x="76.5" y="-26.8" font-size="33" dx="2.64 -2.64">10</tspan></text>
<text transform="translate(1849.2 2121.2) scale(1 1.03)" font-size="50.5" clip-path="url(#cc)"><tspan dx="2.78 -2.78">10</tspan><tspan x="56.32" y="-31.38" font-size="31.6">−</tspan><tspan x="76.5" y="-26.8" font-size="33">9</tspan></text>
<text transform="translate(1959.7 2121.2) scale(1 1.03)" font-size="50.5" clip-path="url(#cc)"><tspan dx="2.78 -2.78">10</tspan><tspan x="56.32" y="-31.38" font-size="31.6">−</tspan><tspan x="76.5" y="-26.8" font-size="33">8</tspan></text>
<text transform="translate(2081.7 2121.2) scale(1 1.03)" font-size="50.5" clip-path="url(#cc)"><tspan dx="2.78 -2.78">10</tspan><tspan x="56.32" y="-31.38" font-size="31.6">−</tspan><tspan x="76.5" y="-26.8" font-size="33">7</tspan></text>
<text transform="translate(2202.7 2121.2) scale(1 1.03)" font-size="50.5" clip-path="url(#cc)"><tspan dx="2.78 -2.78">10</tspan><tspan x="56.32" y="-31.38" font-size="31.6">−</tspan><tspan x="76.5" y="-26.8" font-size="33">6</tspan></text>
<line x1="1500.29" y1="1295.6" x2="1500.29" y2="1430" stroke="#0c0606" stroke-width="3.3"/>
<line x1="1488.29" y1="1295.6" x2="1512.29" y2="1295.6" stroke="#0c0606" stroke-width="3.3"/>
<line x1="1488.29" y1="1430" x2="1512.29" y2="1430" stroke="#0c0606" stroke-width="3.3"/>
<line x1="1623.17" y1="1377.6" x2="1623.17" y2="1484" stroke="#0c0606" stroke-width="3.3"/>
<line x1="1611.17" y1="1377.6" x2="1635.17" y2="1377.6" stroke="#0c0606" stroke-width="3.3"/>
<line x1="1611.17" y1="1484" x2="1635.17" y2="1484" stroke="#0c0606" stroke-width="3.3"/>
<line x1="1746.06" y1="1486.2" x2="1746.06" y2="1557.2" stroke="#0c0606" stroke-width="3.3"/>
<line x1="1734.06" y1="1486.2" x2="1758.06" y2="1486.2" stroke="#0c0606" stroke-width="3.3"/>
<line x1="1734.06" y1="1557.2" x2="1758.06" y2="1557.2" stroke="#0c0606" stroke-width="3.3"/>
<line x1="1868.94" y1="1542" x2="1868.94" y2="1614.2" stroke="#0c0606" stroke-width="3.3"/>
<line x1="1856.94" y1="1542" x2="1880.94" y2="1542" stroke="#0c0606" stroke-width="3.3"/>
<line x1="1856.94" y1="1614.2" x2="1880.94" y2="1614.2" stroke="#0c0606" stroke-width="3.3"/>
<line x1="1991.83" y1="1516.5" x2="1991.83" y2="1639.7" stroke="#0c0606" stroke-width="3.3"/>
<line x1="1979.83" y1="1516.5" x2="2003.83" y2="1516.5" stroke="#0c0606" stroke-width="3.3"/>
<line x1="1979.83" y1="1639.7" x2="2003.83" y2="1639.7" stroke="#0c0606" stroke-width="3.3"/>
<line x1="2114.71" y1="1564.8" x2="2114.71" y2="1682.6" stroke="#0c0606" stroke-width="3.3"/>
<line x1="2102.71" y1="1564.8" x2="2126.71" y2="1564.8" stroke="#0c0606" stroke-width="3.3"/>
<line x1="2102.71" y1="1682.6" x2="2126.71" y2="1682.6" stroke="#0c0606" stroke-width="3.3"/>
<line x1="1500.29" y1="1332.4" x2="1500.29" y2="1378" stroke="#0c0606" stroke-width="3.3"/>
<line x1="1488.29" y1="1332.4" x2="1512.29" y2="1332.4" stroke="#0c0606" stroke-width="3.3"/>
<line x1="1488.29" y1="1378" x2="1512.29" y2="1378" stroke="#0c0606" stroke-width="3.3"/>
<line x1="1623.17" y1="1341.6" x2="1623.17" y2="1470" stroke="#0c0606" stroke-width="3.3"/>
<line x1="1611.17" y1="1341.6" x2="1635.17" y2="1341.6" stroke="#0c0606" stroke-width="3.3"/>
<line x1="1611.17" y1="1470" x2="1635.17" y2="1470" stroke="#0c0606" stroke-width="3.3"/>
<line x1="1746.06" y1="1523.4" x2="1746.06" y2="1632.6" stroke="#0c0606" stroke-width="3.3"/>
<line x1="1734.06" y1="1523.4" x2="1758.06" y2="1523.4" stroke="#0c0606" stroke-width="3.3"/>
<line x1="1734.06" y1="1632.6" x2="1758.06" y2="1632.6" stroke="#0c0606" stroke-width="3.3"/>
<line x1="1868.94" y1="1692.3" x2="1868.94" y2="1802.4" stroke="#0c0606" stroke-width="3.3"/>
<line x1="1856.94" y1="1692.3" x2="1880.94" y2="1692.3" stroke="#0c0606" stroke-width="3.3"/>
<line x1="1856.94" y1="1802.4" x2="1880.94" y2="1802.4" stroke="#0c0606" stroke-width="3.3"/>
<line x1="1991.83" y1="1752.4" x2="1991.83" y2="1839" stroke="#0c0606" stroke-width="3.3"/>
<line x1="1979.83" y1="1752.4" x2="2003.83" y2="1752.4" stroke="#0c0606" stroke-width="3.3"/>
<line x1="1979.83" y1="1839" x2="2003.83" y2="1839" stroke="#0c0606" stroke-width="3.3"/>
<line x1="2114.71" y1="1810.5" x2="2114.71" y2="1885" stroke="#0c0606" stroke-width="3.3"/>
<line x1="2102.71" y1="1810.5" x2="2126.71" y2="1810.5" stroke="#0c0606" stroke-width="3.3"/>
<line x1="2102.71" y1="1885" x2="2126.71" y2="1885" stroke="#0c0606" stroke-width="3.3"/>
<line x1="1500.29" y1="1417" x2="1500.29" y2="1475.7" stroke="#0c0606" stroke-width="3.3"/>
<line x1="1488.29" y1="1417" x2="1512.29" y2="1417" stroke="#0c0606" stroke-width="3.3"/>
<line x1="1488.29" y1="1475.7" x2="1512.29" y2="1475.7" stroke="#0c0606" stroke-width="3.3"/>
<line x1="1746.06" y1="1662.4" x2="1746.06" y2="1716.2" stroke="#0c0606" stroke-width="3.3"/>
<line x1="1734.06" y1="1662.4" x2="1758.06" y2="1662.4" stroke="#0c0606" stroke-width="3.3"/>
<line x1="1734.06" y1="1716.2" x2="1758.06" y2="1716.2" stroke="#0c0606" stroke-width="3.3"/>
<line x1="1868.94" y1="1878.8" x2="1868.94" y2="1951.1" stroke="#0c0606" stroke-width="3.3"/>
<line x1="1856.94" y1="1878.8" x2="1880.94" y2="1878.8" stroke="#0c0606" stroke-width="3.3"/>
<line x1="1856.94" y1="1951.1" x2="1880.94" y2="1951.1" stroke="#0c0606" stroke-width="3.3"/>
<line x1="1991.83" y1="1880.7" x2="1991.83" y2="1945.8" stroke="#0c0606" stroke-width="3.3"/>
<line x1="1979.83" y1="1880.7" x2="2003.83" y2="1880.7" stroke="#0c0606" stroke-width="3.3"/>
<line x1="1979.83" y1="1945.8" x2="2003.83" y2="1945.8" stroke="#0c0606" stroke-width="3.3"/>
<polyline points="1500.29,1362.7 1623.17,1431 1746.06,1522.2 1868.94,1578.4 1991.83,1578.4 2114.71,1623.5" fill="none" stroke="#0c0606" stroke-width="3.8" stroke-linejoin="round"/>
<polyline points="1500.29,1355.3 1623.17,1406 1746.06,1578 1868.94,1747 1991.83,1796.8 2114.71,1847.5" fill="none" stroke="#0c0606" stroke-width="3.8" stroke-linejoin="round"/>
<polyline points="1500.29,1446.2 1623.17,1483 1746.06,1689.2 1868.94,1915.1 1991.83,1913.5 2114.71,1936.1" fill="none" stroke="#0c0606" stroke-width="3.8" stroke-linejoin="round"/>
<path d="M1500.29 1342.7L1519.99 1382.7L1480.59 1382.7Z" fill="#000" stroke="#000" stroke-width="3" stroke-linejoin="round"/>
<path d="M1623.17 1411L1642.87 1451L1603.47 1451Z" fill="#000" stroke="#000" stroke-width="3" stroke-linejoin="round"/>
<path d="M1746.06 1502.2L1765.76 1542.2L1726.36 1542.2Z" fill="#000" stroke="#000" stroke-width="3" stroke-linejoin="round"/>
<path d="M1868.94 1558.4L1888.64 1598.4L1849.24 1598.4Z" fill="#000" stroke="#000" stroke-width="3" stroke-linejoin="round"/>
<path d="M1991.83 1558.4L2011.53 1598.4L1972.13 1598.4Z" fill="#000" stroke="#000" stroke-width="3" stroke-linejoin="round"/>
<path d="M2114.71 1603.5L2134.41 1643.5L2095.01 1643.5Z" fill="#000" stroke="#000" stroke-width="3" stroke-linejoin="round"/>
<path d="M1500.29 1336.4L1519.49 1355.3L1500.29 1374.2L1481.09 1355.3Z" fill="#000" stroke="#000" stroke-width="4" stroke-linejoin="round"/>
<path d="M1623.17 1387.1L1642.37 1406L1623.17 1424.9L1603.97 1406Z" fill="#000" stroke="#000" stroke-width="4" stroke-linejoin="round"/>
<path d="M1746.06 1559.1L1765.26 1578L1746.06 1596.9L1726.86 1578Z" fill="#000" stroke="#000" stroke-width="4" stroke-linejoin="round"/>
<path d="M1868.94 1728.1L1888.14 1747L1868.94 1765.9L1849.74 1747Z" fill="#000" stroke="#000" stroke-width="4" stroke-linejoin="round"/>
<path d="M1991.83 1777.9L2011.03 1796.8L1991.83 1815.7L1972.63 1796.8Z" fill="#000" stroke="#000" stroke-width="4" stroke-linejoin="round"/>
<path d="M2114.71 1828.6L2133.91 1847.5L2114.71 1866.4L2095.51 1847.5Z" fill="#000" stroke="#000" stroke-width="4" stroke-linejoin="round"/>
<circle cx="1500.29" cy="1446.2" r="22.2" fill="#000"/>
<circle cx="1623.17" cy="1483" r="22.2" fill="#000"/>
<circle cx="1746.06" cy="1689.2" r="22.2" fill="#000"/>
<circle cx="1868.94" cy="1915.1" r="22.2" fill="#000"/>
<circle cx="1991.83" cy="1913.5" r="22.2" fill="#000"/>
<circle cx="2114.71" cy="1936.1" r="22.2" fill="#000"/>
<line x1="1451.7" y1="1860.9" x2="1550.8" y2="1860.9" stroke="#0c0606" stroke-width="3.8"/>
<path d="M1501.3 1845.35L1517.11 1876.45L1485.49 1876.45Z" fill="#000" stroke="#000" stroke-width="2.4" stroke-linejoin="round"/>
<text transform="translate(1558.22 1877) scale(1 1.01)" font-size="51.6">24 h</text>
<line x1="1451.7" y1="1921.7" x2="1550.8" y2="1921.7" stroke="#0c0606" stroke-width="3.8"/>
<path d="M1501.3 1907.03L1516.22 1921.7L1501.3 1936.37L1486.38 1921.7Z" fill="#000" stroke="#000" stroke-width="3.2" stroke-linejoin="round"/>
<text transform="translate(1559.64 1936.6) scale(1 1.01)" font-size="51.6">48 h</text>
<line x1="1451.7" y1="1981.3" x2="1550.8" y2="1981.3" stroke="#0c0606" stroke-width="3.8"/>
<circle cx="1501.3" cy="1981.3" r="17.25" fill="#000"/>
<text transform="translate(1558.22 1997.1) scale(1 1.01)" font-size="51.6">72 h</text>
<text transform="translate(1976.76 1299) scale(1 1.02)" font-size="61" font-weight="bold">Caco-2</text>
</g>
</svg>
</body></html>
